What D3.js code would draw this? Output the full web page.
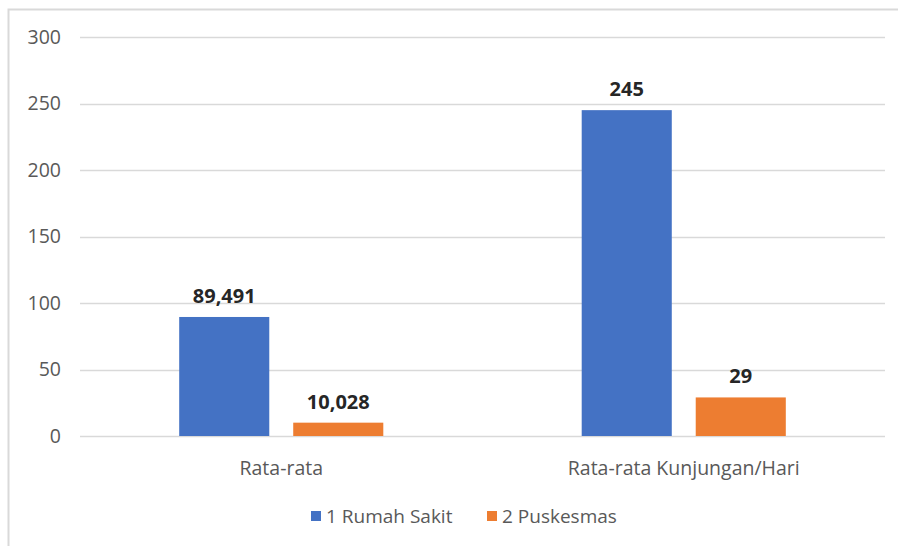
<!DOCTYPE html>
<html>
<head>
<meta charset="utf-8">
<script src="https://cdn.jsdelivr.net/npm/d3@7"></script>
<style>
  body { margin: 0; background: #fff; }
  svg { display: block; font-family: "Open Sans", sans-serif; }
</style>
</head>
<body>
<svg id="chart" width="898" height="546"></svg>
<script>
(function () {
  'use strict';

  const categories = ['Rata-rata', 'Rata-rata Kunjungan/Hari'];
  const seriesNames = ['1 Rumah Sakit', '2 Puskesmas'];
  const rumahSakit = [89.491, 245];
  const puskesmas = [10.028, 29];
  const valueLabels = [['89,491', '245'], ['10,028', '29']];
  const yTicks = [0, 50, 100, 150, 200, 250, 300];
  const colors = ['#4472C4', '#ED7D31'];

  const series = [rumahSakit, puskesmas];
  const svg = d3.select('#chart');
  const margin = { left: 80, right: 13, top: 37, bottom: 110 };
  const W = 898, H = 546;

  // chart frame
  svg.append('rect')
    .attr('x', 8.5).attr('y', 9.5)
    .attr('width', 920).attr('height', 600)
    .attr('fill', 'none').attr('stroke', '#d9d9d9').attr('stroke-width', 2);

  const x = d3.scaleBand()
    .domain(categories)
    .range([margin.left, W - margin.right]);
  const xInner = d3.scaleBand()
    .domain([0, 1])
    .range([0, x.bandwidth()])
    .paddingInner(0.21)
    .paddingOuter(0.87);
  const y = d3.scaleLinear()
    .domain([0, 300])
    .range([H - margin.bottom, margin.top]);

  // grid
  svg.append('g')
    .selectAll('line').data(yTicks)
    .enter().append('line')
    .attr('x1', margin.left).attr('x2', W - margin.right)
    .attr('y1', d => Math.round(y(d)) + 0.5).attr('y2', d => Math.round(y(d)) + 0.5)
    .attr('stroke', '#d9d9d9').attr('stroke-width', 1.5);

  // y axis labels
  const yAxis = svg.append('g')
    .attr('transform', `translate(${margin.left},0)`)
    .call(d3.axisLeft(y).tickValues(yTicks).tickSize(0).tickPadding(19));
  yAxis.select('.domain').remove();
  yAxis.selectAll('text')
    .attr('font-size', 19.5).attr('fill', '#595959')
    .attr('font-family', '"Open Sans", sans-serif');

  // bars
  series.forEach((vals, si) => {
    svg.append('g')
      .selectAll('rect').data(vals)
      .enter().append('rect')
      .attr('x', (d, i) => x(categories[i]) + xInner(si))
      .attr('width', xInner.bandwidth())
      .attr('y', d => y(d))
      .attr('height', d => y(0) - y(d))
      .attr('fill', colors[si]);

    svg.append('g')
      .selectAll('text').data(vals)
      .enter().append('text')
      .attr('x', (d, i) => x(categories[i]) + xInner(si) + xInner.bandwidth() / 2)
      .attr('y', d => y(d) - 14)
      .attr('text-anchor', 'middle')
      .attr('font-size', 20).attr('font-weight', 'bold').attr('fill', '#262626')
      .text((d, i) => valueLabels[si][i]);
  });

  // x axis labels
  svg.append('g')
    .selectAll('text').data(categories)
    .enter().append('text')
    .attr('x', d => x(d) + x.bandwidth() / 2)
    .attr('y', y(0) + 39)
    .attr('text-anchor', 'middle')
    .attr('font-size', 19.5).attr('fill', '#595959')
    .text(d => d);

  // legend
  const legendX = [311, 487];
  const legend = svg.append('g')
    .selectAll('g').data(seriesNames)
    .enter().append('g')
    .attr('transform', (d, i) => `translate(${legendX[i]},523)`);
  legend.append('rect')
    .attr('x', 0).attr('y', -12).attr('width', 10).attr('height', 10)
    .attr('fill', (d, i) => colors[i]);
  legend.append('text')
    .attr('x', 15).attr('y', 0)
    .attr('font-size', 19).attr('fill', '#595959')
    .text(d => d);
}());
</script>
</body>
</html>
